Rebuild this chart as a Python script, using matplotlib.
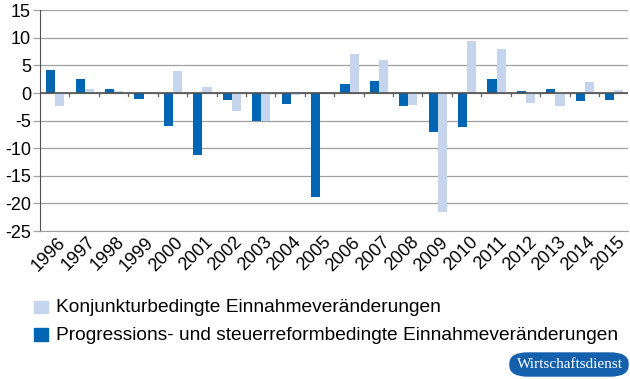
import matplotlib
matplotlib.use("Agg")
import matplotlib.pyplot as plt
import matplotlib.transforms as mtrans
import numpy as np
from matplotlib.patches import FancyBboxPatch, Rectangle

years = [str(y) for y in range(1996, 2016)]
konjunktur = [-2.4, 0.8, 0.3, 0.1, 4.0, 1.1, -3.3, -5.0, -0.3, 0.1,
              7.0, 6.0, -2.1, -21.5, 9.5, 8.0, -1.8, -2.3, 2.0, 0.5]
progression = [4.2, 2.5, 0.8, -1.0, -5.9, -11.2, -1.2, -5.0, -1.9, -18.9,
               1.7, 2.2, -2.4, -7.1, -6.2, 2.6, 0.3, 0.7, -1.4, -1.2]
labels = ["Konjunkturbedingte Einnahmeveränderungen",
          "Progressions- und steuerreformbedingte Einnahmeveränderungen"]
yticks = [15, 10, 5, 0, -5, -10, -15, -20, -25]

light = "#c6d5ee"
dark = "#0066b3"

plt.rcParams['font.family'] = ['Liberation Sans', 'DejaVu Sans']

fig = plt.figure(figsize=(6.3, 3.79), dpi=100)
ax = fig.add_axes([0.0635, 0.3905, 0.934, 0.5825])

x = np.arange(len(years))
w = 0.31
ax.bar(x - w / 2 + 0.02, progression, w, color=dark, zorder=3)
ax.bar(x + w / 2 + 0.02, konjunktur, w, color=light, zorder=3)

ax.set_xlim(-0.5, len(years) - 0.5)
ax.set_ylim(-25, 15)
ax.set_yticks(yticks)
ax.set_yticklabels([str(v) for v in yticks], fontsize=13)
ax.yaxis.grid(True, color="#a0a0a0", lw=0.9, zorder=0)
ax.axhline(0, color="#505050", lw=1.2, zorder=4)

ax.set_xticks(x)
ax.set_xticklabels(years, rotation=45, ha="right", rotation_mode="anchor", fontsize=13)
ax.tick_params(axis="x", length=0, pad=2)
shift = mtrans.ScaledTranslation(2.5 / 100, 0, fig.dpi_scale_trans)
for lab in ax.get_xticklabels():
    lab.set_transform(lab.get_transform() + shift)
# small ticks on zero line at category boundaries
for b in np.arange(0.5, len(years) - 0.5, 1):
    ax.plot([b, b], [0, -0.6], color="#606060", lw=0.9, zorder=4, clip_on=False)
ax.tick_params(axis="y", length=5, color="#a0a0a0", width=0.9, pad=1.5)

for s in ["top", "right"]:
    ax.spines[s].set_visible(False)
ax.spines["left"].set_color("#505050")
ax.spines["bottom"].set_color("#a0a0a0")

# legend
fig.patches.append(Rectangle((34 / 630, 1 - 313 / 379), 14 / 630, 12 / 379,
                             transform=fig.transFigure, color=light))
fig.text(56 / 630, 1 - 308 / 379, labels[0], fontsize=13.8, va="center")
fig.patches.append(Rectangle((34 / 630, 1 - 341 / 379), 14 / 630, 13 / 379,
                             transform=fig.transFigure, color=dark))
fig.text(56 / 630, 1 - 335.5 / 379, labels[1], fontsize=13.8, va="center")

# badge
badge = FancyBboxPatch((510 / 630, 3 / 379), 118 / 630, 23 / 379,
                       boxstyle="round,pad=0,rounding_size=0.028",
                       transform=fig.transFigure, color="#1460ad", mutation_aspect=1)
fig.patches.append(badge)
fig.text(569.5 / 630, 15 / 379, "Wirtschaftsdienst", color="white", fontsize=11,
         family="Liberation Serif", ha="center", va="center")

fig.savefig("out.png", dpi=100)
